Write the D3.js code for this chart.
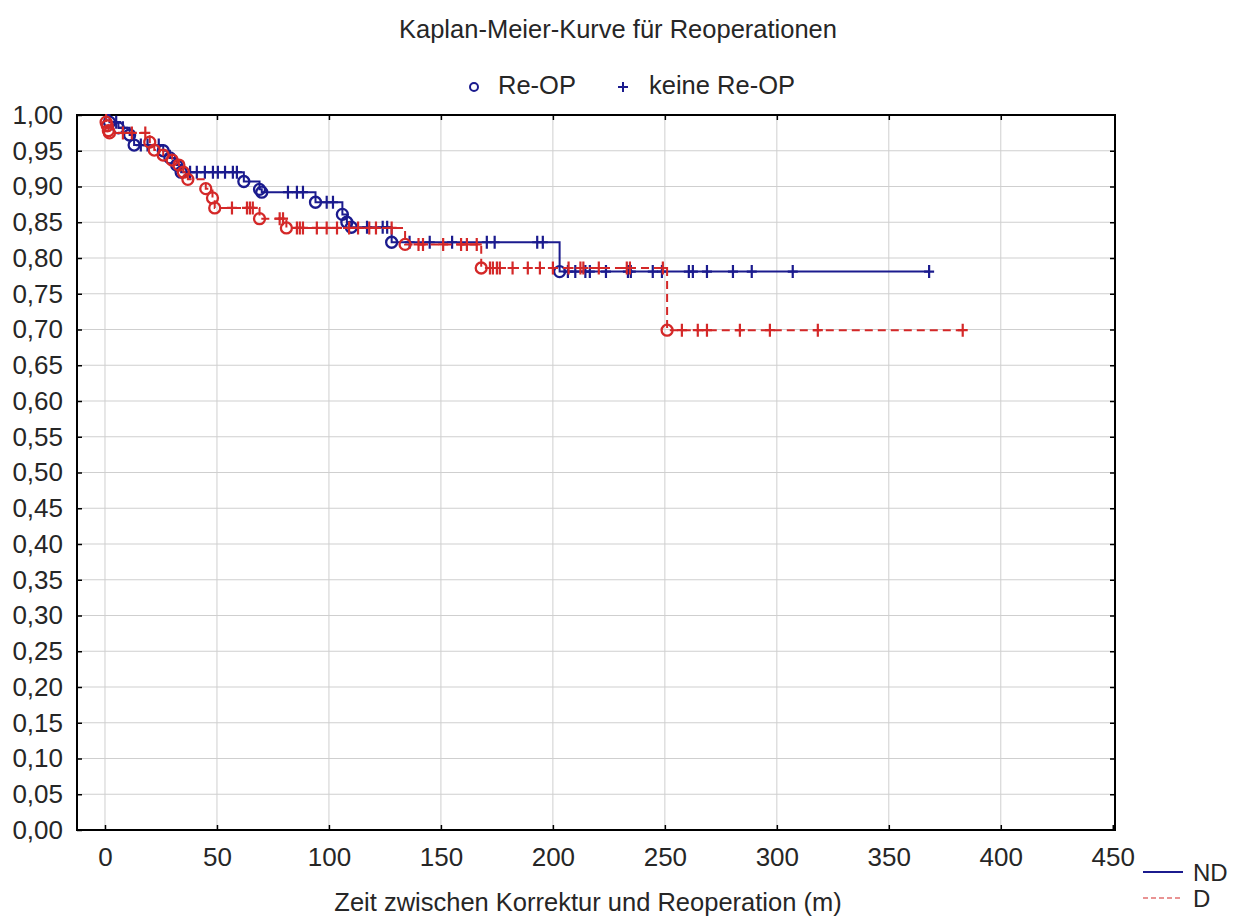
<!DOCTYPE html>
<html>
<head>
<meta charset="utf-8">
<script src="https://cdn.jsdelivr.net/npm/d3@7"></script>
<style>
	body { margin: 0; background: #fff; }
	svg { font-family: "Liberation Sans", Arial, sans-serif; }
</style>
</head>
<body>
<svg id="chart" width="1235" height="919"></svg>
<script>

var chartTitle = "Kaplan-Meier-Kurve für Reoperationen";
var xLabel = "Zeit zwischen Korrektur und Reoperation (m)";
var markLabels = ["Re-OP", "keine Re-OP"];
var groupLabels = ["ND", "D"];

var xTicks = [0, 50, 100, 150, 200, 250, 300, 350, 400, 450];
var yTicks = [0, 0.05, 0.10, 0.15, 0.20, 0.25, 0.30, 0.35, 0.40, 0.45, 0.50,
	0.55, 0.60, 0.65, 0.70, 0.75, 0.80, 0.85, 0.90, 0.95, 1.00];

// ND: step times (events, circles) and survival after each step
var ndTimes = [0, 2, 6, 11, 13, 26, 29, 32, 34, 62, 69, 70, 94, 106, 108, 110, 128, 203];
var ndSurv  = [1.0, 0.99, 0.982, 0.972, 0.958, 0.95, 0.94, 0.93, 0.92, 0.907, 0.896, 0.892, 0.878, 0.861, 0.85, 0.843, 0.822, 0.781];
var ndCensored = [5, 8, 16, 19, 24, 38, 41, 44.6, 48.2, 50.4, 53.6, 57.1, 58.9, 81.7, 85.7, 88.4,
	99, 101.8, 117, 124, 126, 136, 145, 155, 170.5, 174, 193, 195.5,
	206.7, 210, 214.5, 216.5, 223.7, 233.5, 234.8, 244.6, 248.7, 260.7, 262.5, 268.8, 280.4, 288.8, 307.1, 368];
var ndEnd = 368;

// D
var dTimes = [0, 0.5, 1, 1.5, 2, 20, 22, 26, 30, 33, 35, 37, 45, 48, 49, 69, 81, 134, 168, 251];
var dSurv  = [1.0, 0.99, 0.985, 0.978, 0.975, 0.962, 0.951, 0.944, 0.937, 0.93, 0.92, 0.91, 0.897, 0.884, 0.870, 0.855, 0.842, 0.819, 0.786, 0.699];
var dCensored = [8, 12, 18, 56.7, 63.4, 64.7, 66, 78, 79.5, 85.7, 87, 88.4, 94.6, 99, 103.6, 109, 113, 118, 121, 128,
	140, 142, 151, 159, 161.6, 166,
	171.9, 173.2, 175, 176.3, 182, 188.8, 194.2, 200, 207, 212.3, 213.6, 220.5, 233, 234.4, 249.1,
	257.6, 264.7, 268.8, 283.5, 296.9, 318.3, 383];
var dEnd = 383;

var blue = "#1b1b8e", red = "#d42828", textCol = "#262626";
var fontSize = "25.5px";

var svg = d3.select("#chart");

var x = d3.scaleLinear().domain([-12.5, 451]).range([77, 1115]);
var y = d3.scaleLinear().domain([0, 1]).range([830, 115]);

var comma = d3.formatLocale({decimal: ",", thousands: ".", grouping: [3], currency: ["", "€"]}).format(".2f");

// grid
svg.append("g")
	.selectAll("line")
	.data(xTicks.slice(0, -1))
	.join("line")
		.attr("x1", d => x(d)).attr("x2", d => x(d))
		.attr("y1", y(1)).attr("y2", y(0))
		.attr("stroke", "#cfcfcf");

svg.append("g")
	.selectAll("line")
	.data(yTicks.slice(1, -1))
	.join("line")
		.attr("x1", x.range()[0]).attr("x2", x.range()[1])
		.attr("y1", d => y(d)).attr("y2", d => y(d))
		.attr("stroke", "#cfcfcf");

// axes (inward ticks)
var styleAxis = g => g
	.call(g => g.select(".domain").remove())
	.call(g => g.selectAll(".tick line").attr("stroke", "#000").attr("stroke-width", 1.5))
	.call(g => g.selectAll("text").attr("fill", textCol).style("font-size", "26px"));

svg.append("g")
	.attr("transform", `translate(0,${y(0)})`)
	.call(d3.axisBottom(x).tickValues(xTicks).tickSize(-5).tickPadding(18))
	.call(styleAxis);

svg.append("g")
	.attr("transform", `translate(0,${y(1)})`)
	.call(d3.axisTop(x).tickValues(xTicks.slice(0, -1)).tickSize(-5).tickFormat(""))
	.call(styleAxis);

svg.append("g")
	.attr("transform", `translate(${x.range()[0]},0)`)
	.call(d3.axisLeft(y).tickValues(yTicks).tickSize(-5).tickPadding(14).tickFormat(comma))
	.call(styleAxis);

svg.append("g")
	.attr("transform", `translate(${x.range()[1]},0)`)
	.call(d3.axisRight(y).tickValues(yTicks.slice(1, -1)).tickSize(-5).tickFormat(""))
	.call(styleAxis);

svg.append("rect")
	.attr("x", x.range()[0]).attr("y", y(1))
	.attr("width", x.range()[1] - x.range()[0]).attr("height", y(0) - y(1))
	.attr("fill", "none").attr("stroke", "#000").attr("stroke-width", 2);

// curves
var stepLine = d3.line().x(d => x(d[0])).y(d => y(d[1])).curve(d3.curveStepAfter);

function survAt(times, surv, t) {
	var i = d3.bisectRight(times, t) - 1;
	return surv[Math.max(i, 0)];
}

function drawGroup(times, surv, censored, end, colour, dash) {
	var pts = times.map((t, i) => [t, surv[i]]);
	pts.push([end, surv[surv.length - 1]]);

	var g = svg.append("g");

	g.append("path")
		.attr("d", stepLine(pts))
		.attr("fill", "none")
		.attr("stroke", colour)
		.attr("stroke-width", 2)
		.attr("stroke-dasharray", dash);

	g.append("g")
		.selectAll("circle")
		.data(times.slice(1))
		.join("circle")
			.attr("cx", d => x(d))
			.attr("cy", d => y(survAt(times, surv, d)))
			.attr("r", 5.5)
			.attr("fill", "none")
			.attr("stroke", colour)
			.attr("stroke-width", 2.3);

	g.append("g")
		.selectAll("path")
		.data(censored)
		.join("path")
			.attr("d", d => {
				var cx = x(d), cy = y(survAt(times, surv, d));
				return `M${cx - 5},${cy}H${cx + 5}M${cx},${cy - 6.5}V${cy + 6.5}`;
			})
			.attr("stroke", colour)
			.attr("stroke-width", 2.2);
}

drawGroup(ndTimes, ndSurv, ndCensored, ndEnd, blue, null);
drawGroup(dTimes, dSurv, dCensored, dEnd, red, "8,5");

// title + labels
svg.append("text")
	.attr("x", 618).attr("y", 38)
	.attr("text-anchor", "middle")
	.attr("fill", textCol)
	.style("font-size", fontSize)
	.text(chartTitle);

svg.append("text")
	.attr("x", 588).attr("y", 911)
	.attr("text-anchor", "middle")
	.attr("fill", textCol)
	.style("font-size", fontSize)
	.text(xLabel);

// top legend (marks)
var topLegend = svg.append("g").attr("transform", "translate(0,87)");
topLegend.append("circle")
	.attr("cx", 474).attr("cy", 0).attr("r", 4)
	.attr("fill", "none").attr("stroke", blue).attr("stroke-width", 2);
topLegend.append("path")
	.attr("d", "M618,0H628M623,-5V5")
	.attr("stroke", blue).attr("stroke-width", 2);
topLegend.selectAll("text")
	.data(markLabels)
	.join("text")
		.attr("x", (d, i) => i ? 649 : 498)
		.attr("y", 7)
		.attr("fill", textCol)
		.style("font-size", fontSize)
		.text(d => d);

// bottom-right legend (groups)
var grpLegend = svg.append("g")
	.selectAll("g")
	.data(groupLabels)
	.join("g")
		.attr("transform", (d, i) => `translate(1143,${872 + i * 26})`);
grpLegend.append("line")
	.attr("x2", 40)
	.attr("stroke", (d, i) => i ? red : blue)
	.attr("stroke-width", (d, i) => i ? 1.2 : 2)
	.attr("stroke-dasharray", (d, i) => i ? "5,3" : null);
grpLegend.append("text")
	.attr("x", 50).attr("y", 9)
	.attr("fill", textCol)
	.style("font-size", "24px")
	.text(d => d);

</script>
</body>
</html>
